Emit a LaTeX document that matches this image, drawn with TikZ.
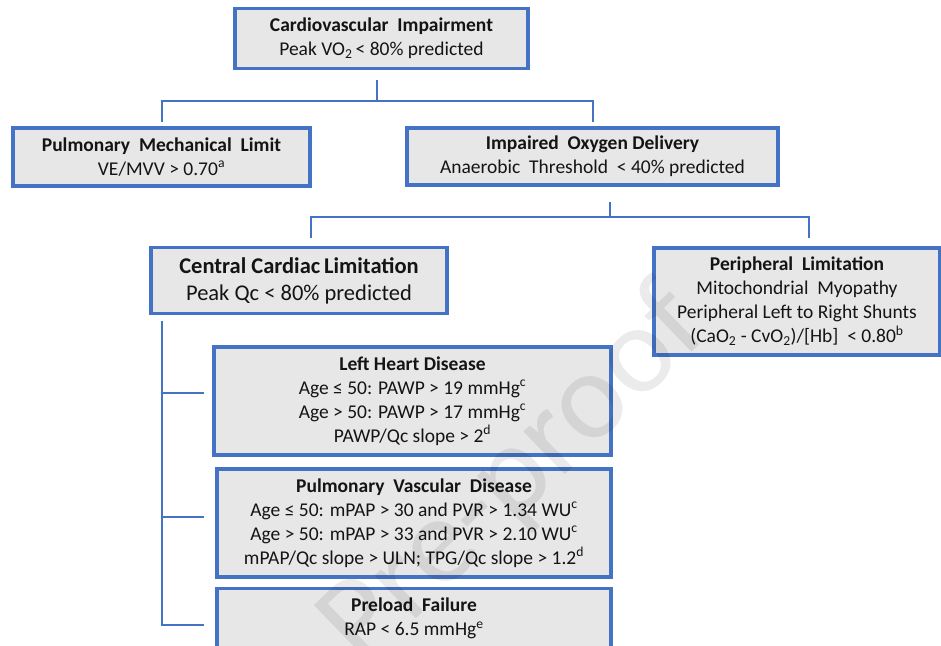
\documentclass[tikz,border=0pt]{standalone}
\usepackage{fontspec}
\setmainfont{Carlito}
\usetikzlibrary{calc}
\definecolor{bblue}{HTML}{4472C4}
\definecolor{bfill}{HTML}{E7E7E7}
\definecolor{tcol}{HTML}{141414}
\tikzset{
  box/.style={draw=bblue, line width=3.2pt, fill=bfill, text=tcol, align=center, inner sep=0pt,
    font=\fontsize{19.5}{24}\selectfont},
  bigbox/.style={box, font=\fontsize{22.5}{27}\selectfont},
  conn/.style={draw=bblue, line width=1.9pt},
  wmark/.style={rotate=44, text=black, opacity=0.08, font=\fontsize{125}{125}\selectfont, inner sep=0pt}
}
\begin{document}
\begin{tikzpicture}[x=1pt, y=-1pt]
\useasboundingbox (0,0) rectangle (941,645);
\fill[white] (0,0) rectangle (941,645);

% boxes
\node[box, minimum width=293pt, minimum height=60pt] (top) at (381.5,38.5)
  {\textbf{Cardiovascular\ \ Impairment}\\Peak VO\textsubscript{2}\,< 80\% predicted};
\node[box, minimum width=297pt, minimum height=58pt] (pml) at (161.5,157)
  {\textbf{Pulmonary\ \ Mechanical\ \ Limit}\\VE/MVV > 0.70\textsuperscript{a}};
\node[box, minimum width=371pt, minimum height=57pt] (iod) at (592.5,156.5)
  {\textbf{Impaired\ \ Oxygen Delivery}\\Anaerobic\ \ Threshold\ \ < 40\% predicted};
\node[bigbox, minimum width=296pt, minimum height=66pt] (ccl) at (299,280.5)
  {\textbf{Central Cardiac\,Limitation}\\Peak Qc < 80\% predicted};
\node[box, minimum width=286pt, minimum height=107pt] (per) at (797,301.5)
  {\textbf{Peripheral\ \ Limitation}\\Mitochondrial\ \ Myopathy\\Peripheral Left to Right Shunts\\(CaO\textsubscript{2} - CvO\textsubscript{2})/[Hb]\ \ < 0.80\textsuperscript{b}};
\node[box, minimum width=397pt, minimum height=108pt] (lhd) at (412.5,401)
  {\textbf{Left Heart Disease}\\Age ≤ 50: PAWP > 19 mmHg\textsuperscript{c}\\Age > 50: PAWP > 17 mmHg\textsuperscript{c}\\PAWP/Qc slope > 2\textsuperscript{d}};
\node[box, minimum width=394pt, minimum height=108pt] (pvd) at (414,523)
  {\textbf{Pulmonary\ \ Vascular\ \ Disease}\\Age ≤ 50: mPAP > 30 and PVR > 1.34 WU\textsuperscript{c}\\Age > 50: mPAP > 33 and PVR > 2.10 WU\textsuperscript{c}\\mPAP/Qc slope > ULN; TPG/Qc slope > 1.2\textsuperscript{d}};
\node[box, minimum width=394pt, minimum height=60pt] (plf) at (414,618.5)
  {\textbf{Preload\ \ Failure}\\RAP < 6.5 mmHg\textsuperscript{e}};

% connector points
\coordinate (t1) at (377,80);
\coordinate (t2) at (377,101);
\coordinate (tl) at (162,122);
\coordinate (tr) at (593,122);
\coordinate (m1) at (610,202);
\coordinate (m2) at (610,217);
\coordinate (ml) at (311,238);
\coordinate (mr) at (809,238);
\coordinate (c0) at (162,321);
\coordinate (cb1) at (162,393);
\coordinate (cb2) at (162,517);
\coordinate (cb3) at (162,625);
\coordinate (e1) at (204,393);
\coordinate (e2) at (204,517);
\coordinate (e3) at (204,625);

\draw[conn] (t1) -- (t2);
\draw[conn] (tl) |- (t2) -| (tr);
\draw[conn] (m1) -- (m2);
\draw[conn] (ml) |- (m2) -| (mr);
\draw[conn] (c0) -- (cb3) -- (e3);
\draw[conn] (cb1) -- (e1);
\draw[conn] (cb2) -- (e2);

% watermark
\node[wmark] (wm) at (515,478) {Pre-proof};
\end{tikzpicture}
\end{document}
